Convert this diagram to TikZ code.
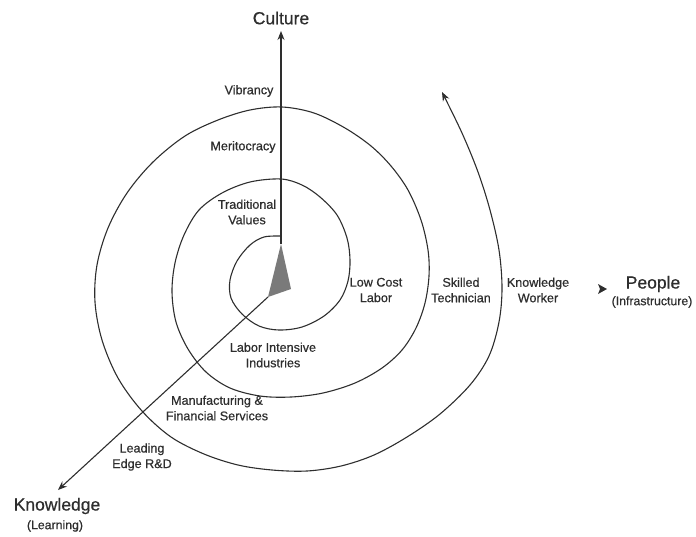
\documentclass[tikz,border=0pt]{standalone}
\usepackage{fontspec}
\setmainfont{Liberation Sans}
\newfontfamily\lblfont{Liberation Sans}[FakeBold=0.6]
\usetikzlibrary{arrows.meta}
\definecolor{ink}{HTML}{2E2E2E}
\definecolor{tri}{HTML}{7A7A7A}
\begin{document}
\begin{tikzpicture}[x=1pt,y=-1pt,
  lbl/.style={font=\lblfont\fontsize{12.6}{15.5}\selectfont, text=ink, align=center, inner sep=0pt},
  head/.style={font=\lblfont\fontsize{17.5}{19}\selectfont, text=ink, inner sep=0pt},
  sub/.style={font=\lblfont\fontsize{12.3}{14}\selectfont, text=ink, inner sep=0pt},
  curve/.style={draw=ink, line width=1.1pt},
  tip/.style={-{Stealth[length=9pt,width=7pt]}}]
\useasboundingbox (0,0) rectangle (696,536);
% axes anchors
\coordinate (tritop) at (281,244);
\coordinate (triright) at (291,289);
\coordinate (trileft) at (268,297);
\coordinate (cultip) at (281,31);
\coordinate (knowtip) at (58,490);
% grey pointer
\fill[tri] (tritop) -- (triright) -- (trileft) -- cycle;
% axes
\draw[curve, tip] (tritop) -- (cultip);
\draw[curve, tip] (trileft) -- (knowtip);
% spiral
\draw[curve, tip] plot[smooth, tension=0.55] coordinates {
(281,236) (264,237) (250,245) (237,261) (230,280) (231,298) (242,314) (259,326) (279,330) (302,327) (324,316) (340,300) (348,281) (350,260) (347,238) (337,215) (320,197) (302,185) (281,179)
(250,182) (222,193) (199,210) (184,235) (175,263) (172,292) (176,322) (188,349) (206,372) (230,388) (260,396) (291,397) (323,393) (355,383) (382,368) (402,350) (416,328) (425,303) (429,276) (428,250) (421,220) (408,190) (391,166) (371,146) (345,128) (314,113) (282,107)
(250,110) (218,120) (185,136) (153,162) (127,193) (108,228) (97,265) (95,302) (102,340) (118,378) (142,411) (171,437) (204,454) (238,465) (272,470) (307,471) (341,466) (374,455) (407,437) (440,414) (470,385) (489,356) (499,322) (502,288) (499,250) (490,210) (478,172) (462,133) (442,92)};
% people pointer
\coordinate (ptip) at (607,289);
\fill[ink] (ptip) -- ++(-9,-5) -- ++(2,5) -- ++(-2,5) -- cycle;
% headings
\node[head] (culture) at (281,18) {Culture};
\node[head] (people) at (653,284) {People};
\node[sub] (infra) at (652,302) {(Infrastructure)};
\node[head] (knowledge) at (57,506) {Knowledge};
\node[sub] (learning) at (55,526) {(Learning)};
% labels
\node[lbl] (vib) at (249,91) {Vibrancy};
\node[lbl] (merit) at (243,147) {Meritocracy};
\node[lbl] (trad) at (247,212) {Traditional\\Values};
\node[lbl] (lowcost) at (376,290) {Low Cost\\Labor};
\node[lbl] (skilled) at (461,290) {Skilled\\Technician};
\node[lbl] (kworker) at (538,290) {Knowledge\\Worker};
\node[lbl] (lii) at (273,355) {Labor Intensive\\Industries};
\node[lbl] (mfs) at (217,408) {Manufacturing \&\\Financial Services};
\node[lbl] (lerd) at (142,457) {Leading\\Edge R\&D};
\end{tikzpicture}
\end{document}
